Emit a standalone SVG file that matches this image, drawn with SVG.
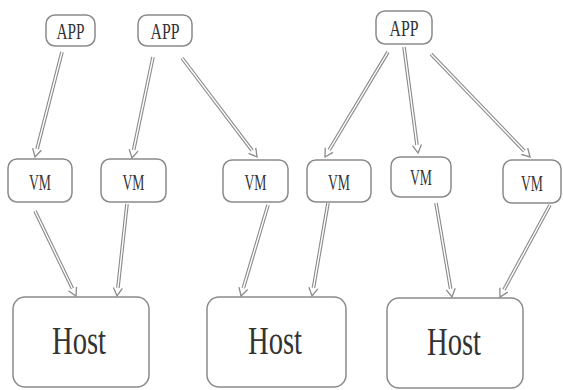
<svg xmlns="http://www.w3.org/2000/svg" width="563" height="390" viewBox="0 0 563 390">
<style>
.box{fill:#fff;stroke:#8a8a8a;stroke-width:1.5}
.t{font-family:"Liberation Serif","DejaVu Serif",serif;fill:#333;text-anchor:middle}
.s{font-size:24px}
.h{font-size:41px}
.outer{stroke:#8a8a8a;stroke-width:3.6;fill:none}
.inner{stroke:#fff;stroke-width:1.4;fill:none;marker-end:url(#ah)}
</style>
<defs>
<marker id="ah" markerUnits="userSpaceOnUse" markerWidth="12" markerHeight="12" refX="0" refY="6" orient="auto" overflow="visible">
<path d="M0,1.5 L8,6 L0,10.5" fill="#fff" stroke="#8a8a8a" stroke-width="1.3"/>
</marker>
</defs>
<rect width="563" height="390" fill="#fff"/>
<g id="connectors">
<line class="outer" x1="62" y1="52" x2="37.0" y2="149.2"/><line class="inner" x1="62" y1="52" x2="37.0" y2="149.2"/>
<line class="outer" x1="153" y1="57" x2="133.6" y2="150.2"/><line class="inner" x1="153" y1="57" x2="133.6" y2="150.2"/>
<line class="outer" x1="182" y1="58" x2="252.2" y2="150.6"/><line class="inner" x1="182" y1="58" x2="252.2" y2="150.6"/>
<line class="outer" x1="388" y1="52" x2="329.1" y2="150.1"/><line class="inner" x1="388" y1="52" x2="329.1" y2="150.1"/>
<line class="outer" x1="404" y1="47" x2="417.0" y2="145.1"/><line class="inner" x1="404" y1="47" x2="417.0" y2="145.1"/>
<line class="outer" x1="431" y1="54" x2="524.5" y2="151.2"/><line class="inner" x1="431" y1="54" x2="524.5" y2="151.2"/>
<line class="outer" x1="35" y1="211" x2="72.5" y2="288.8"/><line class="inner" x1="35" y1="211" x2="72.5" y2="288.8"/>
<line class="outer" x1="127" y1="204" x2="117.9" y2="288.0"/><line class="inner" x1="127" y1="204" x2="117.9" y2="288.0"/>
<line class="outer" x1="268" y1="205" x2="243.3" y2="288.3"/><line class="inner" x1="268" y1="205" x2="243.3" y2="288.3"/>
<line class="outer" x1="328" y1="203" x2="313.4" y2="288.1"/><line class="inner" x1="328" y1="203" x2="313.4" y2="288.1"/>
<line class="outer" x1="436" y1="203" x2="450.7" y2="289.1"/><line class="inner" x1="436" y1="203" x2="450.7" y2="289.1"/>
<line class="outer" x1="550" y1="205" x2="503.8" y2="290.0"/><line class="inner" x1="550" y1="205" x2="503.8" y2="290.0"/>
</g>
<g id="app1"><rect class="box" x="46" y="15" width="49" height="31" rx="9"/><text class="t s" x="70.5" y="39" textLength="28" lengthAdjust="spacingAndGlyphs">APP</text></g>
<g id="app2"><rect class="box" x="138" y="15" width="54" height="31" rx="9"/><text class="t s" x="165" y="39" textLength="29" lengthAdjust="spacingAndGlyphs">APP</text></g>
<g id="app3"><rect class="box" x="376" y="11" width="56" height="33" rx="9"/><text class="t s" x="404" y="36" textLength="29" lengthAdjust="spacingAndGlyphs">APP</text></g>
<g id="vm1"><rect class="box" x="8" y="159" width="64" height="43" rx="9"/><text class="t s" x="40" y="190" textLength="22" lengthAdjust="spacingAndGlyphs">VM</text></g>
<g id="vm2"><rect class="box" x="101" y="159" width="65" height="43" rx="9"/><text class="t s" x="133.5" y="190" textLength="22" lengthAdjust="spacingAndGlyphs">VM</text></g>
<g id="vm3"><rect class="box" x="223" y="160" width="65" height="42" rx="9"/><text class="t s" x="255.5" y="190" textLength="22" lengthAdjust="spacingAndGlyphs">VM</text></g>
<g id="vm4"><rect class="box" x="307" y="160" width="64" height="42" rx="9"/><text class="t s" x="339" y="190" textLength="22" lengthAdjust="spacingAndGlyphs">VM</text></g>
<g id="vm5"><rect class="box" x="391" y="157" width="60" height="40" rx="9"/><text class="t s" x="421" y="185" textLength="22" lengthAdjust="spacingAndGlyphs">VM</text></g>
<g id="vm6"><rect class="box" x="503" y="160" width="58" height="43" rx="9"/><text class="t s" x="532" y="191" textLength="22" lengthAdjust="spacingAndGlyphs">VM</text></g>
<g id="host1"><rect class="box" x="13" y="297" width="136" height="90" rx="12"/><text class="t h" x="79" y="354" textLength="54" lengthAdjust="spacingAndGlyphs">Host</text></g>
<g id="host2"><rect class="box" x="207" y="297" width="139" height="90" rx="12"/><text class="t h" x="275" y="354" textLength="54" lengthAdjust="spacingAndGlyphs">Host</text></g>
<g id="host3"><rect class="box" x="387" y="298" width="136" height="90" rx="12"/><text class="t h" x="454" y="355" textLength="54" lengthAdjust="spacingAndGlyphs">Host</text></g>
</svg>
